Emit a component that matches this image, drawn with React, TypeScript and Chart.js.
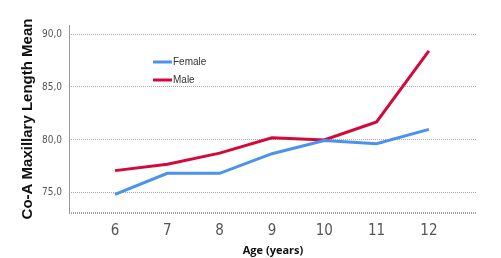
import React, { useEffect, useRef } from "react";
import { Chart, registerables } from "chart.js";

Chart.register(...registerables);

const ages = [6, 7, 8, 9, 10, 11, 12];
const femaleMeans = [74.85, 76.85, 76.85, 78.7, 79.95, 79.65, 81.0];
const maleMeans = [77.1, 77.7, 78.75, 80.2, 80.0, 81.7, 88.4];
const yTickValues = [75, 80, 85, 90];
const seriesNames = ["Female", "Male"];
const seriesColors = ["#4a92ec", "#d20a3c"];

const condensed = "'DejaVu Sans Condensed', 'Liberation Sans Narrow', 'Liberation Sans', Arial, sans-serif";

const insideLegend = {
  id: "insideLegend",
  afterDraw(chart: any) {
    const { ctx, chartArea } = chart;
    ctx.save();
    chart.data.datasets.forEach((ds: any, i: number) => {
      const x0 = chartArea.left + 84;
      const y = chartArea.top + 37 + i * 18;
      ctx.strokeStyle = ds.borderColor;
      ctx.lineWidth = 3;
      ctx.beginPath();
      ctx.moveTo(x0, y);
      ctx.lineTo(x0 + 19, y);
      ctx.stroke();
      ctx.fillStyle = "#333";
      ctx.font = "10px 'Liberation Sans', Arial, sans-serif";
      ctx.textBaseline = "middle";
      ctx.textAlign = "left";
      ctx.fillText(ds.label, x0 + 20, y);
    });
    ctx.restore();
  },
};

const frame = {
  id: "frame",
  beforeDatasetsDraw(chart: any) {
    const { ctx, chartArea } = chart;
    ctx.save();
    ctx.strokeStyle = "#888";
    ctx.lineWidth = 1.5;
    ctx.setLineDash([1, 1]);
    ctx.beginPath();
    ctx.moveTo(chartArea.left, chartArea.bottom);
    ctx.lineTo(chartArea.right, chartArea.bottom);
    ctx.stroke();
    ctx.setLineDash([]);
    ctx.lineWidth = 1;
    ctx.strokeStyle = "#9a9a9a";
    ctx.beginPath();
    ctx.moveTo(chartArea.left + 0.5, chartArea.top);
    ctx.lineTo(chartArea.left + 0.5, chartArea.bottom);
    ctx.stroke();
    ctx.restore();
  },
};

export default function App() {
  const ref = useRef<HTMLCanvasElement | null>(null);
  useEffect(() => {
    if (!ref.current) return;
    const chart = new Chart(ref.current, {
      type: "line",
      data: {
        datasets: [femaleMeans, maleMeans].map((vals, i) => ({
          label: seriesNames[i],
          data: ages.map((a, j) => ({ x: a, y: vals[j] })),
          borderColor: seriesColors[i],
          backgroundColor: seriesColors[i],
          borderWidth: 3,
          pointRadius: 0,
          tension: 0,
          fill: false,
        })),
      },
      options: {
        animation: false,
        responsive: false,
        maintainAspectRatio: false,
        layout: { padding: { left: 0, top: 25, right: 24, bottom: 0 } },
        plugins: { legend: { display: false }, tooltip: { enabled: false } },
        scales: {
          x: {
            type: "linear",
            min: 5.12,
            max: 12.92,
            afterBuildTicks: (s: any) => {
              s.ticks = ages.map((v) => ({ value: v }));
            },
            afterFit: (s: any) => {
              s.height = 45;
            },
            grid: { display: false, drawTicks: false },
            border: { display: false },
            ticks: {
              padding: 9,
              color: "#555",
              font: { size: 15, family: condensed },
              callback: (v: any) => String(v),
            },
            title: {
              display: true,
              text: "Age (years)",
              color: "#111",
              font: { size: 11, weight: "bold", family: "'Open Sans', 'Liberation Sans', Arial, sans-serif" },
              padding: { top: 0, bottom: 1 },
            },
          },
          y: {
            min: 73.1,
            max: 90.85,
            afterBuildTicks: (s: any) => {
              s.ticks = yTickValues.map((v) => ({ value: v }));
            },
            afterFit: (s: any) => {
              s.width = 69;
            },
            grid: { color: "#a8a8a8", drawTicks: false, lineWidth: 1 },
            border: { display: false, dash: [1, 1] },
            ticks: {
              padding: 7,
              color: "#555",
              font: { size: 10, family: condensed },
              callback: (v: any) => Number(v).toFixed(1).replace(".", ","),
            },
            title: {
              display: true,
              text: "Co-A Maxillary Length Mean",
              color: "#111",
              font: { size: 15, weight: "bold", family: "'Liberation Sans', Arial, sans-serif" },
              padding: { top: 19, bottom: 0 },
            },
          },
        },
      },
      plugins: [insideLegend, frame],
    } as any);
    return () => chart.destroy();
  }, []);
  return (
    <div style={{ position: "fixed", left: 0, top: 0, width: 501, height: 258, background: "#fff" }}>
      <canvas ref={ref} width={501} height={258} style={{ width: 501, height: 258 }} />
    </div>
  );
}
